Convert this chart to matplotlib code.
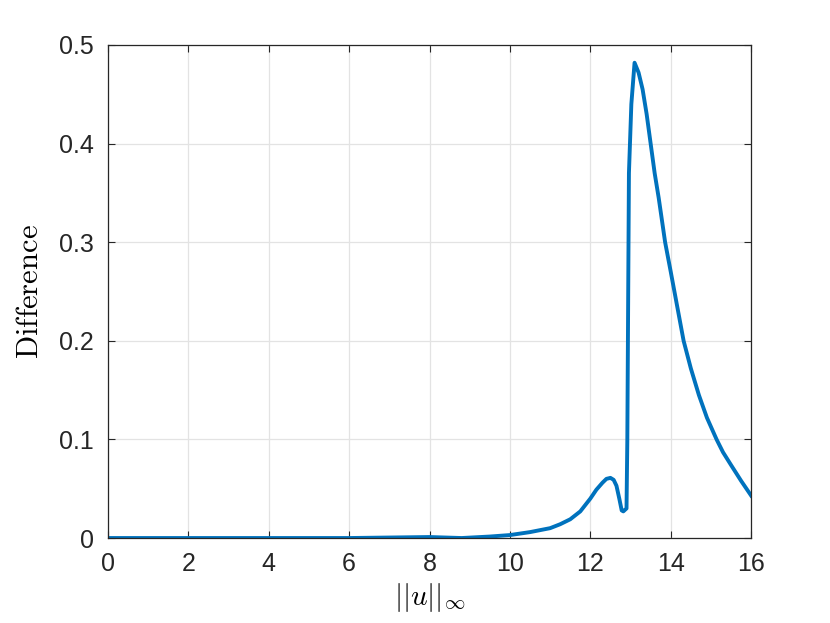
import matplotlib
matplotlib.use("Agg")
import matplotlib.pyplot as plt

plt.rcParams['font.family'] = ['Liberation Sans', 'DejaVu Sans']
plt.rcParams['mathtext.fontset'] = 'cm'

# values
u_norm = [0, 2, 4, 6, 8, 8.8, 9.5, 10, 10.5, 11, 11.25, 11.5, 11.75, 12,
          12.15, 12.3, 12.4, 12.5, 12.58, 12.65, 12.72, 12.78, 12.82, 12.9,
          12.92, 12.96, 13.02, 13.1, 13.2, 13.3, 13.4, 13.5, 13.6, 13.7,
          13.86, 14.0, 14.16, 14.32, 14.5, 14.7, 14.9, 15.14, 15.3, 15.5,
          15.75, 16]
difference = [0, 0, 0, 0, 0.001, 0.0, 0.0015, 0.003, 0.006, 0.010, 0.014,
              0.019, 0.027, 0.040, 0.049, 0.056, 0.060, 0.061, 0.059, 0.053,
              0.040, 0.028, 0.027, 0.030, 0.10, 0.37, 0.44, 0.482, 0.472,
              0.455, 0.43, 0.40, 0.37, 0.345, 0.30, 0.27, 0.235, 0.20, 0.172,
              0.145, 0.122, 0.10, 0.087, 0.074, 0.058, 0.043]

fig = plt.figure(figsize=(8.3, 6.23), dpi=100)
ax = fig.add_axes([0.130, 0.1364, 0.775, 0.7914])

ax.plot(u_norm, difference, color='#0072BD', linewidth=2.8)

ax.set_xlim(0, 16)
ax.set_ylim(0, 0.5)
ax.set_xticks(range(0, 17, 2))
ax.set_yticks([0, 0.1, 0.2, 0.3, 0.4, 0.5])
ax.set_yticklabels(['0', '0.1', '0.2', '0.3', '0.4', '0.5'])

ax.grid(True, color='#e3e3e3', linewidth=0.9)
ax.set_axisbelow(True)
ax.tick_params(direction='in', top=True, right=True, labelsize=18,
               colors='#262626', length=5, width=0.8)
ax.tick_params(axis='y', pad=10)
ax.tick_params(axis='x', pad=10)
for s in ax.spines.values():
    s.set_color('#262626')
    s.set_linewidth(0.9)

ax.set_xlabel(r'$||u||_\infty$', fontsize=21, labelpad=4)
ax.set_ylabel(r'$\mathrm{Difference}$', fontsize=22, labelpad=10)

fig.savefig('out.png', dpi=100)
